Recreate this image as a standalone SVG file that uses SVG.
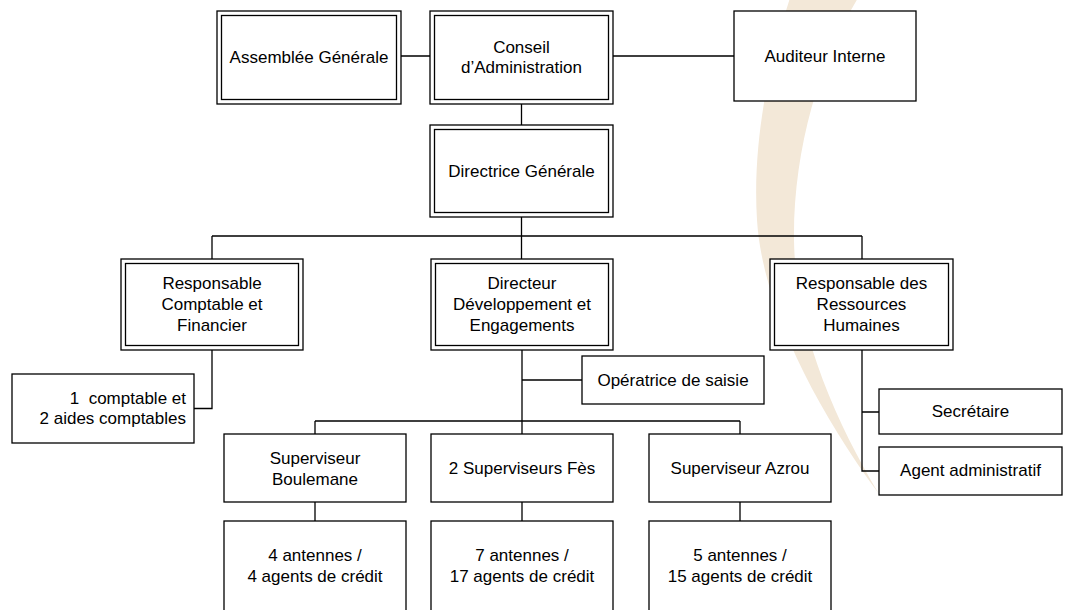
<svg xmlns="http://www.w3.org/2000/svg" width="1066" height="610" viewBox="0 0 1066 610">
<style>
.bg{fill:#ffffff}
.wm{fill:#F3E8D8}
.box{fill:#ffffff;stroke:#000000;stroke-width:1.3}
.inner{fill:none;stroke:#000000;stroke-width:1.3}
.ln{fill:none;stroke:#000000;stroke-width:1.3}
text{font-family:"Liberation Sans",Arial,sans-serif;font-size:17px;fill:#000000;text-anchor:middle}
</style>
<rect class="bg" x="0" y="0" width="1066" height="610"/>
<path class="wm" d="M 790 -2 C 770 60, 752 140, 757 220 C 762 300, 810 400, 879 494 C 835 420, 795 330, 794 240 C 793 150, 820 60, 858 -2 Z"/>
<g id="connectors">
<path class="ln" d="M401 56H430 M613 56H734 M521.5 104V125 M521.5 217V236 M212 236H862 M212 236V259 M521.5 236V259 M862 236V259 M212 350V408.5H194 M522 350V434 M522 380H582 M315 421H740 M315 421V434 M740 421V434 M315 502V521 M522 502V521 M740 502V521 M862 350V471H879 M862 412H879"/>
</g>
<g id="assemblee">
<rect class="box" x="217" y="11" width="184" height="93"/>
<rect class="inner" x="221.5" y="15.5" width="175" height="84"/>
<text x="309" y="63">Assemblée Générale</text>
</g>
<g id="conseil">
<rect class="box" x="430" y="11" width="183" height="93"/>
<rect class="inner" x="434.5" y="15.5" width="174" height="84"/>
<text x="521.5" y="53">Conseil</text>
<text x="521.5" y="73">d’Administration</text>
</g>
<g id="auditeur">
<rect class="box" x="734" y="11" width="182" height="90"/>
<text x="825" y="62">Auditeur Interne</text>
</g>
<g id="directrice">
<rect class="box" x="430" y="125" width="183" height="92"/>
<rect class="inner" x="434.5" y="129.5" width="174" height="83"/>
<text x="521.5" y="177">Directrice Générale</text>
</g>
<g id="resp-comptable">
<rect class="box" x="121" y="259" width="182" height="91"/>
<rect class="inner" x="125.5" y="263.5" width="173" height="82"/>
<text x="212" y="289">Responsable</text>
<text x="212" y="310">Comptable et</text>
<text x="212" y="331">Financier</text>
</g>
<g id="directeur">
<rect class="box" x="431" y="259" width="182" height="91"/>
<rect class="inner" x="435.5" y="263.5" width="173" height="82"/>
<text x="522" y="289">Directeur</text>
<text x="522" y="310">Développement et</text>
<text x="522" y="331">Engagements</text>
</g>
<g id="resp-rh">
<rect class="box" x="770" y="259" width="183" height="91"/>
<rect class="inner" x="774.5" y="263.5" width="174" height="82"/>
<text x="861.5" y="289">Responsable des</text>
<text x="861.5" y="310">Ressources</text>
<text x="861.5" y="331">Humaines</text>
</g>
<g id="comptables">
<rect class="box" x="12" y="374" width="182" height="69"/>
<text x="186" y="404" style="text-anchor:end;white-space:pre">1  comptable et</text>
<text x="186" y="424" style="text-anchor:end">2 aides comptables</text>
</g>
<g id="operatrice">
<rect class="box" x="582" y="356" width="182" height="48"/>
<text x="673" y="386">Opératrice de saisie</text>
</g>
<g id="secretaire">
<rect class="box" x="879" y="389" width="183" height="45"/>
<text x="970.5" y="417">Secrétaire</text>
</g>
<g id="agent-admin">
<rect class="box" x="879" y="447" width="183" height="48"/>
<text x="970.5" y="476">Agent administratif</text>
</g>
<g id="sup-boulemane">
<rect class="box" x="224" y="434" width="182" height="68"/>
<text x="315" y="463.5">Superviseur</text>
<text x="315" y="484.5">Boulemane</text>
</g>
<g id="sup-fes">
<rect class="box" x="431" y="434" width="182" height="68"/>
<text x="522" y="474">2 Superviseurs Fès</text>
</g>
<g id="sup-azrou">
<rect class="box" x="649" y="434" width="182" height="68"/>
<text x="740" y="474">Superviseur Azrou</text>
</g>
<g id="ant-boulemane">
<rect class="box" x="224" y="521" width="182" height="100"/>
<text x="315" y="561">4 antennes /</text>
<text x="315" y="582">4 agents de crédit</text>
</g>
<g id="ant-fes">
<rect class="box" x="431" y="521" width="182" height="100"/>
<text x="522" y="561">7 antennes /</text>
<text x="522" y="582">17 agents de crédit</text>
</g>
<g id="ant-azrou">
<rect class="box" x="649" y="521" width="182" height="100"/>
<text x="740" y="561">5 antennes /</text>
<text x="740" y="582">15 agents de crédit</text>
</g>
</svg>
